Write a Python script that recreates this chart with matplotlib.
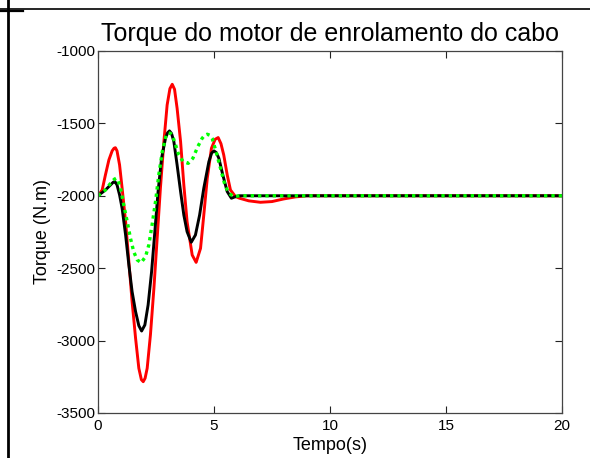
import matplotlib
matplotlib.use('Agg')
import matplotlib.pyplot as plt
from matplotlib.lines import Line2D
import numpy as np

plt.rcParams['font.family'] = ['Liberation Sans', 'DejaVu Sans']
plt.rcParams['axes.unicode_minus'] = False

# tempo (s) e torque (N.m) das tres respostas
t_red = [0.0, 0.18, 0.32, 0.47, 0.61, 0.69, 0.75, 0.82, 0.93, 1.04, 1.19, 1.33, 1.47,
         1.62, 1.76, 1.87, 1.95, 2.03, 2.12, 2.26, 2.41, 2.55, 2.69, 2.84, 2.98, 3.10,
         3.20, 3.30, 3.41, 3.56, 3.70, 3.84, 4.06, 4.23, 4.42, 4.56, 4.71, 4.89, 5.05,
         5.18, 5.30, 5.42, 5.57, 5.71, 5.93, 6.1, 6.5, 7.0, 7.5, 8.0, 8.5, 9.0, 20.0]
torque_red = [-2000, -1960, -1856, -1752, -1690, -1672, -1668, -1690, -1787, -1948,
              -2179, -2455, -2731, -2984, -3191, -3270, -3284, -3260, -3191, -2961,
              -2639, -2294, -1948, -1626, -1373, -1260, -1230, -1265, -1396, -1626,
              -1925, -2179, -2409, -2460, -2363, -2133, -1879, -1672, -1610, -1598,
              -1640, -1718, -1856, -1960, -2006, -2017, -2035, -2045, -2040, -2022,
              -2008, -2000, -2000]

t_black = [0.0, 0.32, 0.54, 0.66, 0.73, 0.82, 0.93, 1.04, 1.19, 1.33, 1.47, 1.62,
           1.76, 1.88, 2.02, 2.16, 2.31, 2.45, 2.59, 2.74, 2.91, 3.00, 3.08, 3.17,
           3.27, 3.41, 3.56, 3.70, 3.84, 4.02, 4.20, 4.38, 4.56, 4.78, 4.90, 5.00,
           5.10, 5.21, 5.38, 5.57, 5.75, 5.93, 6.1, 20.0]
torque_black = [-2000, -1960, -1925, -1906, -1902, -1925, -1994, -2087, -2271, -2478,
                -2662, -2800, -2897, -2934, -2892, -2754, -2524, -2248, -1971, -1741,
                -1603, -1565, -1552, -1570, -1626, -1787, -1971, -2133, -2248, -2321,
                -2271, -2133, -1948, -1764, -1705, -1690, -1702, -1741, -1856, -1971,
                -2017, -2006, -2000, -2000]

t_green = [0.0, 0.32, 0.54, 0.70, 0.78, 0.87, 0.97, 1.11, 1.26, 1.40, 1.54, 1.69,
           1.86, 2.05, 2.19, 2.33, 2.48, 2.62, 2.77, 2.94, 3.04, 3.13, 3.22, 3.30,
           3.48, 3.67, 3.89, 4.09, 4.30, 4.49, 4.60, 4.71, 4.82, 4.92, 5.09, 5.28,
           5.47, 5.64, 5.86, 6.1, 20.0]
torque_green = [-2000, -1960, -1914, -1886, -1879, -1895, -1948, -2063, -2179, -2294,
                -2386, -2443, -2462, -2420, -2340, -2202, -2040, -1856, -1695, -1580,
                -1566, -1569, -1590, -1626, -1718, -1764, -1776, -1741, -1661, -1603,
                -1582, -1575, -1582, -1603, -1695, -1810, -1925, -1983, -2006, -2000,
                -2000]

fig = plt.figure(figsize=(5.9, 4.58), dpi=100)
ax = fig.add_axes([0.1661, 0.0983, 0.7864, 0.7904])

ax.plot(t_red, torque_red, color='#ff0000', lw=2.1)
ax.plot(t_black, torque_black, color='black', lw=2.1)
ax.plot(t_green, torque_green, color='#00ff00', lw=2.4, ls=(0, (1, 1.2)))

ax.set_xlim(0, 20)
ax.set_ylim(-3500, -1000)
ax.set_xticks([0, 5, 10, 15, 20])
ax.set_yticks(np.arange(-3500, -999, 500))
ax.tick_params(direction='in', top=True, right=True, length=5, labelsize=11,
               color='#222222')
ax.tick_params(axis='x', pad=4)
ax.tick_params(axis='y', pad=2)
for s in ax.spines.values():
    s.set_color('#444444')
    s.set_linewidth(0.9)

ax.set_title('Torque do motor de enrolamento do cabo', fontsize=18, pad=7)
ax.set_xlabel('Tempo(s)', fontsize=13, labelpad=3)
ax.set_ylabel('Torque (N.m)', fontsize=13, labelpad=4)

# moldura da pagina
fig.add_artist(Line2D([8 / 590, 8 / 590], [0, 1], color='black', lw=2.0,
                      transform=fig.transFigure))
fig.add_artist(Line2D([0, 1], [1 - 9 / 458, 1 - 9 / 458], color='black', lw=1.2,
                      transform=fig.transFigure))
fig.add_artist(Line2D([0, 23 / 590], [1 - 11 / 458, 1 - 11 / 458], color='black',
                      lw=1.6, transform=fig.transFigure))

fig.savefig('out.png', dpi=100)
